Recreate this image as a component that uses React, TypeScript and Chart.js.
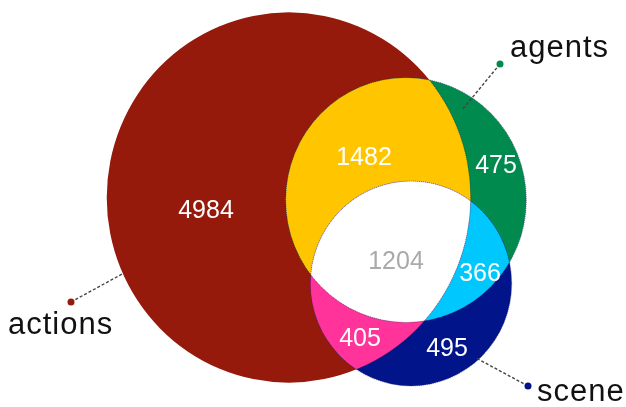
import React, { useEffect, useRef } from "react";
import { Chart, registerables } from "chart.js";

Chart.register(...registerables);

// ---- data ----
const SET_NAMES = ["actions", "agents", "scene"];
const SET_COLORS = ["#951a0b", "#008a4e", "#011489"];

// regions: membership (indices into SET_NAMES) and counts
const REGION_SETS = [[0], [0, 1], [1], [0, 1, 2], [1, 2], [0, 2], [2]];
const REGION_VALUES = [4984, 1482, 475, 1204, 366, 405, 495];
const REGION_COLORS = ["#951a0b", "#ffc600", "#008a4e", "#ffffff", "#00c8ff", "#ff3399", "#011489"];
const REGION_TEXT_COLORS = ["#ffffff", "#ffffff", "#ffffff", "#aaaaaa", "#ffffff", "#ffffff", "#ffffff"];

// ---- layout (data units of the hidden linear scales) ----
const SET_CX = [288.7, 406, 411];
const SET_CY = [194.1, 196.6, 278.6];
const RADIUS_PER_SQRT = 2.025; // circle radius = k * sqrt(set total) -> area proportional

const REGION_LABEL_X = [206, 364, 496, 396, 480, 360, 447];
const REGION_LABEL_Y = [214.3, 162.2, 170.0, 264.4, 276.2, 340.1, 349.9];

const SET_LABEL_X = [8, 510, 537];
const SET_LABEL_Y = [328.3, 56.0, 394.1];
const SET_DOT_X = [71, 500, 528];
const SET_DOT_Y = [296.8, 62.9, 379.4];
const SET_LINE_X = [124, 462, 476];
const SET_LINE_Y = [268.3, 108.1, 351.8];

const FONT = '"Liberation Sans", Arial, Helvetica, sans-serif';

export default function App() {
  const ref = useRef<HTMLCanvasElement>(null);

  useEffect(() => {
    const canvas = ref.current;
    if (!canvas) return;

    const setTotals = SET_NAMES.map((_, i) =>
      REGION_VALUES.reduce((s, v, j) => (REGION_SETS[j].includes(i) ? s + v : s), 0)
    );

    const vennPlugin = {
      id: "venn",
      beforeDatasetsDraw(chart: any) {
        const { ctx, scales } = chart;
        const xs = scales.x;
        const ys = scales.y;
        const circles = SET_NAMES.map((_, i) => {
          const r = RADIUS_PER_SQRT * Math.sqrt(setTotals[i]);
          const cx = xs.getPixelForValue(SET_CX[i]);
          const cy = ys.getPixelForValue(SET_CY[i]);
          const rx = Math.abs(xs.getPixelForValue(SET_CX[i] + r) - cx);
          const ry = Math.abs(ys.getPixelForValue(SET_CY[i] + r) - cy);
          return { cx, cy, rx, ry };
        });
        const addEllipse = (c: any) => {
          ctx.moveTo(c.cx + c.rx, c.cy);
          ctx.ellipse(c.cx, c.cy, c.rx, c.ry, 0, 0, Math.PI * 2);
        };

        // regions, painter's order by number of member sets
        const order = REGION_SETS.map((_, i) => i).sort(
          (a, b) => REGION_SETS[a].length - REGION_SETS[b].length
        );
        order.forEach((ri) => {
          ctx.save();
          REGION_SETS[ri].forEach((si) => {
            ctx.beginPath();
            addEllipse(circles[si]);
            ctx.clip();
          });
          ctx.fillStyle = REGION_COLORS[ri];
          ctx.fillRect(0, 0, chart.width, chart.height);
          ctx.restore();
        });

        // thin dotted outlines
        ctx.save();
        ctx.setLineDash([1, 1]);
        ctx.lineWidth = 0.8;
        ctx.strokeStyle = "rgba(40,40,90,0.75)";
        [1, 2].forEach((i) => {
          ctx.beginPath();
          addEllipse(circles[i]);
          ctx.stroke();
        });
        ctx.beginPath();
        addEllipse(circles[1]);
        addEllipse(circles[2]);
        ctx.clip();
        ctx.beginPath();
        addEllipse(circles[0]);
        ctx.stroke();
        ctx.restore();

        // region values
        ctx.save();
        ctx.font = `25px ${FONT}`;
        ctx.textAlign = "center";
        ctx.textBaseline = "alphabetic";
        REGION_VALUES.forEach((v, i) => {
          ctx.fillStyle = REGION_TEXT_COLORS[i];
          ctx.fillText(String(v), xs.getPixelForValue(REGION_LABEL_X[i]), ys.getPixelForValue(REGION_LABEL_Y[i]));
        });
        ctx.restore();

        // set labels with leader lines
        ctx.save();
        SET_NAMES.forEach((name, i) => {
          const dx = xs.getPixelForValue(SET_DOT_X[i]);
          const dy = ys.getPixelForValue(SET_DOT_Y[i]);
          const lx = xs.getPixelForValue(SET_LINE_X[i]);
          const ly = ys.getPixelForValue(SET_LINE_Y[i]);
          ctx.setLineDash([3, 2]);
          ctx.lineWidth = 1.4;
          ctx.strokeStyle = "#444444";
          ctx.beginPath();
          ctx.moveTo(dx, dy);
          ctx.lineTo(lx, ly);
          ctx.stroke();
          ctx.setLineDash([]);
          ctx.fillStyle = SET_COLORS[i];
          ctx.beginPath();
          ctx.arc(dx, dy, 3.5, 0, Math.PI * 2);
          ctx.fill();
          ctx.fillStyle = "#111111";
          ctx.font = `31px ${FONT}`;
          (ctx as any).letterSpacing = "1px";
          ctx.textAlign = "left";
          ctx.textBaseline = "alphabetic";
          ctx.fillText(name, xs.getPixelForValue(SET_LABEL_X[i]), ys.getPixelForValue(SET_LABEL_Y[i]));
          (ctx as any).letterSpacing = "0px";
        });
        ctx.restore();
      },
    };

    const chart = new Chart(canvas, {
      type: "scatter",
      data: {
        datasets: [
          {
            label: "sets",
            data: SET_NAMES.map((_, i) => ({ x: SET_CX[i], y: SET_CY[i] })),
            pointRadius: 0,
            pointHoverRadius: 0,
          },
        ],
      },
      options: {
        animation: false,
        responsive: true,
        maintainAspectRatio: false,
        events: [],
        layout: { padding: 0 },
        plugins: { legend: { display: false }, tooltip: { enabled: false } },
        scales: {
          x: { type: "linear", min: 0, max: 626, display: false },
          y: { type: "linear", min: 0, max: 400, reverse: true, display: false },
        },
      },
      plugins: [vennPlugin],
    });
    return () => chart.destroy();
  }, []);

  return (
    <div style={{ position: "fixed", left: 0, top: 0, width: 626, height: 407, background: "#ffffff" }}>
      <canvas ref={ref} />
    </div>
  );
}
